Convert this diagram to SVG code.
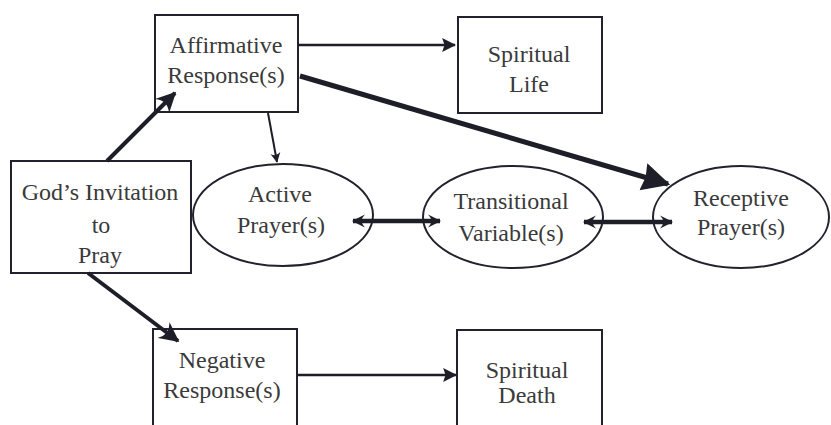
<svg xmlns="http://www.w3.org/2000/svg" width="831" height="425" viewBox="0 0 831 425">
<defs>
<style>
.box{fill:#fff;stroke:#22222e;stroke-width:2}
.ell{fill:#fff;stroke:#22222e;stroke-width:2}
.lbl{font-family:"Liberation Serif",serif;font-size:24px;fill:#3a3a3a;text-anchor:middle}
.c{fill:none;stroke:#1e1e28;stroke-linecap:butt}
</style>
<marker id="barb" viewBox="0 0 12 12" refX="11" refY="6" markerWidth="20" markerHeight="20" markerUnits="userSpaceOnUse" orient="auto-start-reverse">
<path d="M12,6 L0,0 Q5,6 0,12 Z" fill="#1e1e28"/>
</marker>
<marker id="dbl" viewBox="0 0 12 12" refX="11" refY="6" markerWidth="13" markerHeight="17" markerUnits="userSpaceOnUse" orient="auto-start-reverse">
<path d="M12,6 L0,0 Q6,6 0,12 Z" fill="#1e1e28"/>
</marker>
<marker id="tri" viewBox="0 0 12 12" refX="11" refY="6" markerWidth="14" markerHeight="15" markerUnits="userSpaceOnUse" orient="auto">
<path d="M12,6 L0,0 L2,6 L0,12 Z" fill="#1e1e28"/>
</marker>
<marker id="big" viewBox="0 0 12 12" refX="11" refY="6" markerWidth="28" markerHeight="30" markerUnits="userSpaceOnUse" orient="auto">
<path d="M12,6 L0,0 L1,6 L0,12 Z" fill="#1e1e28"/>
</marker>
<marker id="small" viewBox="0 0 12 12" refX="11" refY="6" markerWidth="10" markerHeight="12" markerUnits="userSpaceOnUse" orient="auto">
<path d="M12,6 L0,0 Q5,6 0,12 Z" fill="#1e1e28"/>
</marker>
</defs>
<rect width="831" height="425" fill="#fff"/>
<g id="affirmative">
<rect class="box" x="155" y="15" width="143" height="97"/>
<text class="lbl" x="226" y="53">Affirmative</text>
<text class="lbl" x="226" y="83">Response(s)</text>
</g>
<g id="spiritual-life">
<rect class="box" x="458" y="17" width="144" height="96"/>
<text class="lbl" x="529" y="62">Spiritual</text>
<text class="lbl" x="529" y="92">Life</text>
</g>
<g id="gods-invitation">
<rect class="box" x="11" y="161" width="180" height="112"/>
<text class="lbl" x="100" y="200">God’s Invitation</text>
<text class="lbl" x="101" y="233">to</text>
<text class="lbl" x="100" y="263">Pray</text>
</g>
<g id="active-prayer">
<ellipse class="ell" cx="283" cy="215" rx="90" ry="51"/>
<text class="lbl" x="280" y="202">Active</text>
<text class="lbl" x="281" y="233">Prayer(s)</text>
</g>
<g id="transitional">
<ellipse class="ell" cx="513" cy="217" rx="90" ry="51"/>
<text class="lbl" x="511" y="209">Transitional</text>
<text class="lbl" x="511" y="241">Variable(s)</text>
</g>
<g id="receptive-prayer">
<ellipse class="ell" cx="741" cy="217" rx="88" ry="51"/>
<text class="lbl" x="741" y="206">Receptive</text>
<text class="lbl" x="741" y="235">Prayer(s)</text>
</g>
<g id="negative">
<rect class="box" x="153" y="329" width="144" height="100"/>
<text class="lbl" x="222" y="368">Negative</text>
<text class="lbl" x="222" y="398">Response(s)</text>
</g>
<g id="spiritual-death">
<rect class="box" x="457" y="330" width="145" height="100"/>
<text class="lbl" x="527" y="378">Spiritual</text>
<text class="lbl" x="527" y="403">Death</text>
</g>
<g id="connectors">
<line class="c" x1="107" y1="161" x2="175" y2="93" stroke-width="4" marker-end="url(#barb)"/>
<line class="c" x1="88" y1="273" x2="178" y2="341" stroke-width="4" marker-end="url(#barb)"/>
<line class="c" x1="298" y1="45" x2="455" y2="45" stroke-width="2.5" marker-end="url(#tri)"/>
<line class="c" x1="300" y1="76" x2="668" y2="184" stroke-width="5" marker-end="url(#big)"/>
<line class="c" x1="268" y1="113" x2="277" y2="162" stroke-width="2" marker-end="url(#small)"/>
<line class="c" x1="353" y1="221" x2="440" y2="221" stroke-width="4.5" marker-start="url(#dbl)" marker-end="url(#dbl)"/>
<line class="c" x1="584" y1="222" x2="672" y2="222" stroke-width="4.5" marker-start="url(#dbl)" marker-end="url(#dbl)"/>
<line class="c" x1="298" y1="375" x2="456" y2="375" stroke-width="2.5" marker-end="url(#tri)"/>
</g>
</svg>
